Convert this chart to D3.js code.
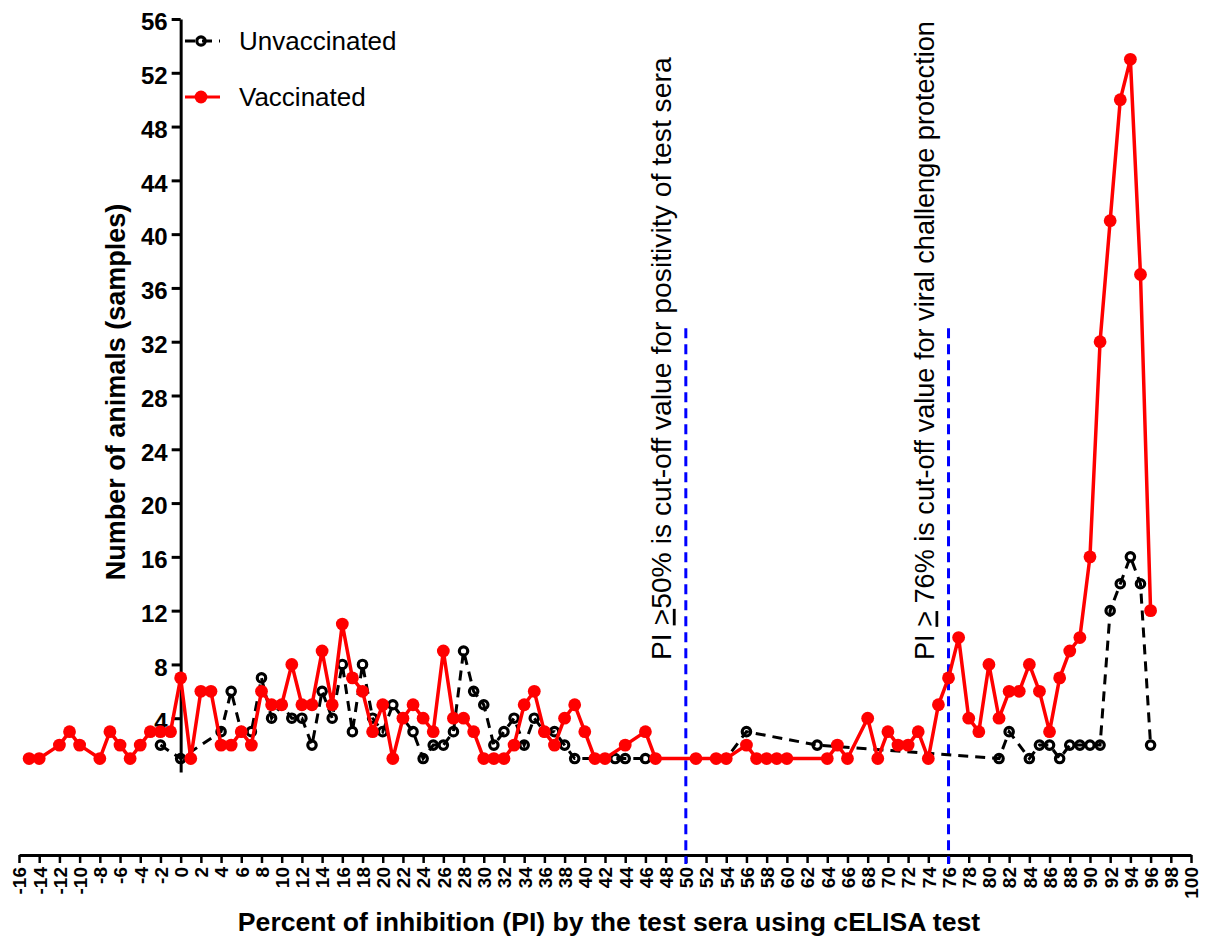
<!DOCTYPE html>
<html>
<head>
<meta charset="utf-8">
<script src="https://cdn.jsdelivr.net/npm/d3@7"></script>
<style>
  body { margin: 0; background: #fff; }
  text { font-family: Arial, "Liberation Sans", sans-serif; }
</style>
</head>
<body>
<script>
// Globals.
var WIDTH = 1214;
var HEIGHT = 941;
var X_AXIS_Y = 855;     // x axis sits below the y range (Prism style offset)
var CUTOFF_TOP = 33;    // blue cut-off lines start at this count

// Data: PI (%) and number of animals.
var unvaccinatedPI = [-2, 0, 4, 5, 6, 7, 8, 9, 10, 11, 12, 13, 14, 15, 16, 17, 18, 19, 20,
  21, 22, 23, 24, 25, 26, 27, 28, 29, 30, 31, 32, 33, 34, 35, 36, 37, 38, 39, 43, 44, 46,
  54, 56, 63, 81, 82, 84, 85, 86, 87, 88, 89, 90, 91, 92, 93, 94, 95, 96];
var unvaccinatedCount = [2, 1, 3, 6, 3, 3, 7, 4, 5, 4, 4, 2, 6, 4, 8, 3, 8, 4, 3,
  5, 4, 3, 1, 2, 2, 3, 9, 6, 5, 2, 3, 4, 2, 4, 3, 3, 2, 1, 1, 1, 1,
  1, 3, 2, 1, 3, 1, 2, 2, 1, 2, 2, 2, 2, 12, 14, 16, 14, 2];

var vaccinatedPI = [-15, -14, -12, -11, -10, -8, -7, -6, -5, -4, -3, -2, -1, 0, 1, 2, 3, 4,
  5, 6, 7, 8, 9, 10, 11, 12, 13, 14, 15, 16, 17, 18, 19, 20, 21, 22, 23, 24, 25, 26, 27,
  28, 29, 30, 31, 32, 33, 34, 35, 36, 37, 38, 39, 40, 41, 42, 44, 46, 47, 51, 53, 54, 56,
  57, 58, 59, 60, 64, 65, 66, 68, 69, 70, 71, 72, 73, 74, 75, 76, 77, 78, 79, 80, 81, 82,
  83, 84, 85, 86, 87, 88, 89, 90, 91, 92, 93, 94, 95, 96];
var vaccinatedCount = [1, 1, 2, 3, 2, 1, 3, 2, 1, 2, 3, 3, 3, 7, 1, 6, 6, 2,
  2, 3, 2, 6, 5, 5, 8, 5, 5, 9, 5, 11, 7, 6, 3, 5, 1, 4, 5, 4, 3, 9, 4,
  4, 3, 1, 1, 1, 2, 5, 6, 3, 2, 4, 5, 3, 1, 1, 2, 3, 1, 1, 1, 1, 2,
  1, 1, 1, 1, 1, 2, 1, 4, 1, 3, 2, 2, 3, 1, 5, 7, 10, 4, 3, 8, 4, 6,
  6, 8, 6, 3, 7, 9, 10, 16, 32, 41, 50, 53, 37, 12];

var xTicks = d3.range(-16, 101, 2);
var yTicks = d3.range(4, 57, 4);
var cutoffs = [50, 76];
var cutoffLabels = [
  {pre: 'PI ', sym: '>', post: '50% is cut-off value for positivity of test sera', size: 28.3},
  {pre: 'PI ', sym: '>', post: ' 76% is cut-off value for viral challenge protection', size: 27.1}
];

var zip = function(xs, ys) {
  return xs.map(function(v, i) { return {pi: v, n: ys[i]}; });
};

var svg = d3.select('body').append('svg')
  .attr('width', WIDTH)
  .attr('height', HEIGHT);

var x = d3.scaleLinear().domain([-16, 100]).range([19, 1191]);
var y = d3.scaleLinear().domain([0, 56]).range([772, 19]);

// x axis
var xAxis = svg.append('g')
  .attr('transform', 'translate(0,' + X_AXIS_Y + ')')
  .call(d3.axisBottom(x)
    .tickValues(xTicks)
    .tickSize(8)
    .tickSizeOuter(0)
    .tickFormat(function(d) { return String(d); }));
xAxis.select('.domain').attr('stroke-width', 3);
xAxis.selectAll('.tick line').attr('stroke-width', 2.5);
xAxis.selectAll('.tick text')
  .attr('transform', 'rotate(-90)')
  .attr('text-anchor', 'end')
  .attr('x', -12)
  .attr('y', 0)
  .attr('dy', '0.36em')
  .attr('fill', '#000')
  .style('font-size', '19px')
  .style('font-weight', 'bold');

// y axis
var yAxis = svg.append('g')
  .attr('transform', 'translate(' + x(0) + ',0)')
  .call(d3.axisLeft(y)
    .tickValues(yTicks)
    .tickSize(9)
    .tickSizeOuter(0)
    .tickPadding(4)
    .tickFormat(function(d) { return String(d); }));
yAxis.select('.domain').attr('stroke-width', 3);
yAxis.selectAll('.tick line').attr('stroke-width', 3);
yAxis.selectAll('.tick text')
  .attr('dy', '0.45em')
  .attr('fill', '#000')
  .style('font-size', '24px')
  .style('font-weight', 'bold');

// cut-off lines
svg.selectAll('line.cutoff')
  .data(cutoffs)
  .enter()
  .append('line')
  .attr('class', 'cutoff')
  .attr('x1', function(d) { return x(d); })
  .attr('x2', function(d) { return x(d); })
  .attr('y1', y(CUTOFF_TOP))
  .attr('y2', X_AXIS_Y + 9)
  .attr('stroke', '#0000ff')
  .attr('stroke-width', 3)
  .attr('stroke-dasharray', '10,6');

var notes = svg.selectAll('text.note')
  .data(cutoffLabels)
  .enter()
  .append('text')
  .attr('class', 'note')
  .attr('transform', function(d, i) {
    return 'translate(' + (x(cutoffs[i]) - 15) + ',660) rotate(-90)';
  })
  .style('font-size', function(d) { return d.size + 'px'; })
  .attr('fill', '#000');
notes.append('tspan').text(function(d) { return d.pre; });
notes.append('tspan').style('text-decoration', 'underline').text(function(d) { return d.sym; });
notes.append('tspan').text(function(d) { return d.post; });

var line = d3.line()
  .x(function(d) { return x(d.pi); })
  .y(function(d) { return y(d.n); });

// unvaccinated: black dashed, open circles
var unvac = zip(unvaccinatedPI, unvaccinatedCount);
svg.append('path')
  .datum(unvac)
  .attr('d', line)
  .attr('fill', 'none')
  .attr('stroke', '#000')
  .attr('stroke-width', 3)
  .attr('stroke-dasharray', '10,7');
svg.selectAll('circle.unvac')
  .data(unvac)
  .enter()
  .append('circle')
  .attr('class', 'unvac')
  .attr('cx', function(d) { return x(d.pi); })
  .attr('cy', function(d) { return y(d.n); })
  .attr('r', 4.2)
  .attr('fill', 'none')
  .attr('stroke', '#000')
  .attr('stroke-width', 3.2);

// vaccinated: red solid, filled circles
var vac = zip(vaccinatedPI, vaccinatedCount);
svg.append('path')
  .datum(vac)
  .attr('d', line)
  .attr('fill', 'none')
  .attr('stroke', '#ff0000')
  .attr('stroke-width', 3.5)
  .attr('stroke-linejoin', 'round');
svg.selectAll('circle.vac')
  .data(vac)
  .enter()
  .append('circle')
  .attr('class', 'vac')
  .attr('cx', function(d) { return x(d.pi); })
  .attr('cy', function(d) { return y(d.n); })
  .attr('r', 6.4)
  .attr('fill', '#ff0000');

// legend
var legend = [
  {name: 'Unvaccinated', y: 41, color: '#000', dash: '10,7', fill: 'none', r: 4.2},
  {name: 'Vaccinated', y: 97, color: '#ff0000', dash: null, fill: '#ff0000', r: 6.4}
];
var lg = svg.selectAll('g.legend')
  .data(legend)
  .enter()
  .append('g')
  .attr('class', 'legend');
lg.append('line')
  .attr('x1', 185).attr('x2', 220)
  .attr('y1', function(d) { return d.y; })
  .attr('y2', function(d) { return d.y; })
  .attr('stroke', function(d) { return d.color; })
  .attr('stroke-width', 3)
  .attr('stroke-dasharray', function(d) { return d.dash; });
lg.append('circle')
  .attr('cx', 201)
  .attr('cy', function(d) { return d.y; })
  .attr('r', function(d) { return d.r; })
  .attr('fill', function(d) { return d.fill; })
  .attr('stroke', function(d) { return d.color; })
  .attr('stroke-width', function(d) { return d.fill === 'none' ? 3.2 : 0; });
lg.append('text')
  .attr('x', 239)
  .attr('y', function(d) { return d.y + 9; })
  .style('font-size', '26px')
  .text(function(d) { return d.name; });

// axis titles
svg.append('text')
  .attr('x', 609)
  .attr('y', 931)
  .attr('text-anchor', 'middle')
  .style('font-size', '26.6px')
  .style('font-weight', 'bold')
  .text('Percent of inhibition (PI) by the test sera using cELISA test');

svg.append('text')
  .attr('transform', 'translate(125,392) rotate(-90)')
  .attr('text-anchor', 'middle')
  .style('font-size', '27px')
  .style('font-weight', 'bold')
  .text('Number of animals (samples)');
</script>
</body>
</html>
